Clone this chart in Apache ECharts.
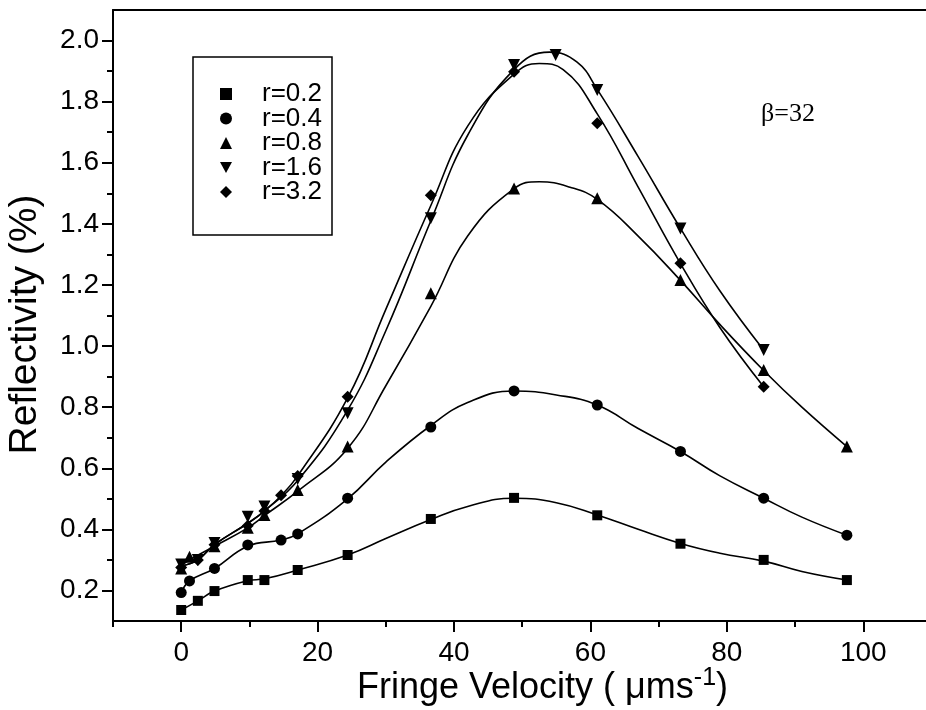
<!DOCTYPE html>
<html><head><meta charset="utf-8">
<script src="https://cdn.jsdelivr.net/npm/echarts@6/dist/echarts.min.js"></script>
<style>html,body{margin:0;padding:0;background:#fff}#c{width:926px;height:710px}</style>
</head><body><div id="c"></div>
<script>
// ---- measured data points ----
const names = ['r=0.2','r=0.4','r=0.8','r=1.6','r=3.2'];
const symbols = ['rect','circle','triangle','triangle','diamond'];
const legendIcons = ['rect','circle','triangle','path://M0,0 L10,0 L5,9 Z','diamond'];
const rotations = [0,0,0,180,0];
const symbolSizes = [10,11,12,12,12];

const x02 = [0,2.44,4.88,9.76,12.2,17.08,24.4,36.6,48.8,61,73.2,85.4,97.6];
const y02 = [0.136,0.166,0.198,0.234,0.234,0.267,0.316,0.434,0.503,0.446,0.353,0.300,0.234];
const x04 = [0,1.22,4.88,9.76,14.64,17.08,24.4,36.6,48.8,61,73.2,85.4,97.6];
const y04 = [0.193,0.231,0.272,0.349,0.365,0.385,0.502,0.735,0.853,0.807,0.655,0.502,0.381];
const x08 = [0,1.22,4.88,9.76,12.2,17.08,24.4,36.6,48.8,61,73.2,85.4,97.6];
const y08 = [0.272,0.310,0.345,0.405,0.447,0.529,0.671,1.173,1.516,1.484,1.216,0.922,0.671];
const x16 = [0,2.44,4.88,9.76,12.2,17.08,24.4,36.6,48.8,54.9,61,73.2,85.4];
const y16 = [0.285,0.300,0.355,0.441,0.475,0.565,0.780,1.418,1.920,1.953,1.838,1.385,0.987];
const x32 = [0,2.44,4.88,9.76,12.2,14.64,17.08,24.4,36.6,48.8,61,73.2,85.4];
const y32 = [0.275,0.300,0.350,0.412,0.460,0.512,0.575,0.834,1.494,1.898,1.729,1.271,0.867];

// ---- fitted curves ----
const cx02 = [0,2.44,4.88,9.76,12.2,17.08,24.4,30,36.6,42,48.8,55,61,67,73.2,79,85.4,91,97.6];
const cy02 = [0.136,0.166,0.198,0.232,0.238,0.267,0.316,0.37,0.432,0.475,0.502,0.487,0.447,0.40,0.354,0.322,0.296,0.262,0.234];
const cx04 = [0,1.22,4.88,9.76,14.64,17.08,24.4,30,36.6,42,48.8,55,61,67,73.2,79,85.4,91,97.6];
const cy04 = [0.193,0.231,0.272,0.345,0.365,0.385,0.50,0.62,0.74,0.815,0.853,0.84,0.807,0.73,0.655,0.575,0.502,0.44,0.381];
const cx08 = [0,1.22,4.88,9.76,12.2,17.08,24.4,30,36.6,42,48.8,52.5,57,61,67,73.2,79,85.4,91,97.6];
const cy08 = [0.28,0.30,0.345,0.405,0.445,0.525,0.665,0.87,1.13,1.36,1.515,1.538,1.52,1.48,1.36,1.215,1.07,0.92,0.80,0.671];
const cx16 = [0,2.44,4.88,9.76,12.2,17.08,24.4,30,36.6,42,48.8,54,58,61,67,73.2,79,85.4];
const cy16 = [0.28,0.30,0.35,0.42,0.46,0.56,0.79,1.05,1.41,1.69,1.905,1.962,1.93,1.84,1.62,1.385,1.18,0.987];
const cx32 = [0,2.44,4.88,9.76,12.2,14.64,17.08,24.4,30,36.6,42,48.8,52.5,56,61,67,73.2,79,85.4];
const cy32 = [0.28,0.30,0.35,0.42,0.46,0.51,0.575,0.83,1.12,1.46,1.72,1.89,1.925,1.905,1.76,1.52,1.27,1.06,0.867];

const xMajor = [0,20,40,60,80,100];
const xMinor = [-10,10,30,50,70,90];
const yMajor = [0.2,0.4,0.6,0.8,1.0,1.2,1.4,1.6,1.8,2.0];
const yMinor = [0.3,0.5,0.7,0.9,1.1,1.3,1.5,1.7,1.9];

const ptsX = [x02,x04,x08,x16,x32];
const ptsY = [y02,y04,y08,y16,y32];
const crvX = [cx02,cx04,cx08,cx16,cx32];
const crvY = [cy02,cy04,cy08,cy16,cy32];

const zip = (a,b) => a.map((v,i)=>[v,b[i]]);
const series = [];
for (let i=0;i<names.length;i++){
  series.push({type:'line', data: zip(crvX[i],crvY[i]), smooth:0.45, showSymbol:false, symbol:'none',
    lineStyle:{color:'#000',width:1.6}, silent:true, z:2, xAxisIndex:0, yAxisIndex:0});
}
for (let i=0;i<names.length;i++){
  series.push({type:'scatter', name:names[i], data: zip(ptsX[i],ptsY[i]), symbol:symbols[i],
    symbolRotate:rotations[i], symbolSize:symbolSizes[i], itemStyle:{color:'#000', opacity:1}, z:3,
    xAxisIndex:0, yAxisIndex:0});
}

const F = 'Liberation Sans, Arial, sans-serif';
const chart = echarts.init(document.getElementById('c'), null, {renderer:'canvas'});
chart.setOption({
  animation:false,
  backgroundColor:'#fff',
  grid:{left:113, right:0, top:10, bottom:89, show:false, containLabel:false, outerBoundsMode:'none'},
  legend:{orient:'vertical', left:220, top:81, padding:0, itemWidth:12, itemHeight:12, itemGap:-1.5,
    data:names.map((n,i)=>({name:n, icon:legendIcons[i], itemStyle:{color:'#000', opacity:1}})),
    textStyle:{fontFamily:F, fontSize:26, color:'#000', lineHeight:24, padding:[0,0,0,25]}},
  graphic:[
    {type:'rect', shape:{x:193, y:57, width:139, height:178}, style:{fill:'none', stroke:'#000', lineWidth:1.5}, z:10},
    {type:'text', left:761, top:101, style:{text:'β=32', font:'26px "Liberation Serif", "Times New Roman", serif', fill:'#000'}, z:10}
  ],
  xAxis:[
    {type:'value', min:-10, max:109.2, position:'bottom', splitLine:{show:false},
     axisLine:{show:true, onZero:false, lineStyle:{color:'#000', width:2}},
     axisTick:{show:true, customValues:xMajor, length:11, lineStyle:{color:'#000', width:2}},
     axisLabel:{customValues:xMajor, fontFamily:F, fontSize:28, color:'#000', margin:18},
     name:'{a|Fringe Velocity ( μms}{s|-1}{a|)}', nameLocation:'middle', nameGap:45, nameMoveOverlap:false,
     nameTextStyle:{padding:[0,0,0,46], rich:{
       a:{fontFamily:F, fontSize:36, lineHeight:40, color:'#000', verticalAlign:'bottom'},
       s:{fontFamily:F, fontSize:25, lineHeight:25, color:'#000', verticalAlign:'top'}}}},
    {type:'value', min:-10, max:109.2, position:'bottom', offset:0, splitLine:{show:false},
     axisLine:{show:false, onZero:false},
     axisTick:{show:true, customValues:xMinor, length:6, lineStyle:{color:'#000', width:2}},
     axisLabel:{show:false}},
    {type:'value', min:-10, max:109.2, position:'top', offset:0, splitLine:{show:false},
     axisLine:{show:true, onZero:false, lineStyle:{color:'#000', width:2}},
     axisTick:{show:false}, axisLabel:{show:false}}
  ],
  yAxis:[
    {type:'value', min:0.1, max:2.1, position:'left', splitLine:{show:false},
     axisLine:{show:true, onZero:false, lineStyle:{color:'#000', width:2}},
     axisTick:{show:true, customValues:yMajor, length:11, lineStyle:{color:'#000', width:2}},
     axisLabel:{customValues:yMajor, formatter:v=>v.toFixed(1), fontFamily:F, fontSize:28, color:'#000', margin:14},
     name:'Reflectivity (%)', nameLocation:'middle', nameGap:68, nameRotate:90, nameMoveOverlap:false,
     nameTextStyle:{fontFamily:F, fontSize:39, color:'#000', padding:[0,18,0,0]}},
    {type:'value', min:0.1, max:2.1, position:'left', offset:0, splitLine:{show:false},
     axisLine:{show:false, onZero:false},
     axisTick:{show:true, customValues:yMinor, length:6, lineStyle:{color:'#000', width:2}},
     axisLabel:{show:false}}
  ],
  series: series
});
</script></body></html>
